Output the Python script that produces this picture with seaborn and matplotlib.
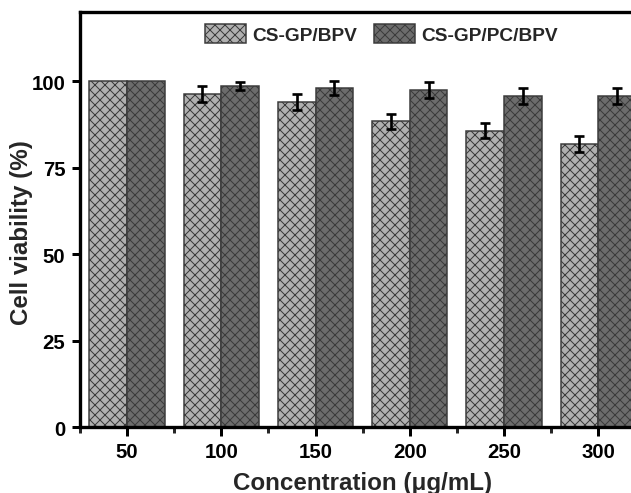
import numpy as np
import pandas as pd
import matplotlib
matplotlib.use("Agg")
import matplotlib.pyplot as plt
import seaborn as sns

# Concentrations tested and cell viability (%) for the two formulations
concentrations = ["50", "100", "150", "200", "250", "300"]
series_names = ["CS-GP/BPV", "CS-GP/PC/BPV"]
viability_bpv = [100.0, 96.3, 93.9, 88.4, 85.7, 81.9]
error_bpv = [0.0, 2.3, 2.3, 2.1, 2.2, 2.4]
viability_pc = [100.0, 98.7, 98.1, 97.5, 95.7, 95.6]
error_pc = [0.0, 1.2, 2.1, 2.4, 2.2, 2.3]
y_ticks = [0, 25, 50, 75, 100]

sns.set_style("ticks")
plt.rcParams["font.family"] = ["Liberation Sans", "DejaVu Sans"]
plt.rcParams["font.weight"] = "bold"
plt.rcParams["axes.labelweight"] = "bold"
plt.rcParams["hatch.linewidth"] = 0.6

df = pd.DataFrame({
    "Concentration": concentrations * 2,
    "Viability": viability_bpv + viability_pc,
    "Sample": [series_names[0]] * len(concentrations) + [series_names[1]] * len(concentrations),
})

DPI = 120
fig = plt.figure(figsize=(631 / DPI, 494 / DPI), dpi=DPI)
ax = fig.add_axes([80 / 631, (494 - 428.3) / 494, (645.3 - 80) / 631, (428.3 - 13) / 494])

fills = ["#b0b0b0", "#6c6c6c"]
sns.barplot(data=df, x="Concentration", y="Viability", hue="Sample",
            order=concentrations, hue_order=series_names, palette=fills,
            saturation=1, width=0.8, errorbar=None, edgecolor="#3a3a3a",
            linewidth=0.9, ax=ax)
if ax.get_legend() is not None:
    ax.get_legend().remove()

errors = [error_bpv, error_pc]
for container, err in zip(ax.containers, errors):
    for bar, e in zip(container.patches, err):
        bar.set_hatch("xxxx")
        if e > 0:
            ax.errorbar(bar.get_x() + bar.get_width() / 2, bar.get_height(), yerr=e,
                        fmt="none", ecolor="black", elinewidth=1.6, capsize=3,
                        capthick=1.6, zorder=5)

ax.set_xlim(-0.5, 5.5)
ax.set_ylim(0, 120)
ax.set_yticks(y_ticks)
ax.set_xticks(np.arange(-0.5, 6.0, 1.0), minor=True)

for side in ["left", "bottom", "top", "right"]:
    ax.spines[side].set_visible(True)
    ax.spines[side].set_linewidth(2.0)
    ax.spines[side].set_color("black")

ax.tick_params(axis="both", which="major", direction="out", width=1.8,
               labelsize=12.2, color="black", labelcolor="black")
ax.tick_params(axis="y", which="major", length=4.8, pad=4)
ax.tick_params(axis="x", which="major", length=5.4, pad=3.2)
ax.tick_params(axis="x", which="minor", length=3.6, width=1.8, direction="out")
ax.tick_params(axis="y", which="minor", length=0)
for lbl in ax.get_xticklabels() + ax.get_yticklabels():
    lbl.set_fontweight("bold")

ax.set_xlabel("Concentration (μg/mL)", fontsize=14.5, fontweight="bold", labelpad=6)
ax.set_ylabel("Cell viability (%)", fontsize=14.5, fontweight="bold")
ax.yaxis.set_label_coords((33 - 80) / 565.3, (428.3 - 233) / 415.3)

ax.legend(handles=list(ax.containers), labels=series_names, ncol=2, frameon=False,
          loc="upper left", bbox_to_anchor=(205 / 631, 1 - 25 / 494),
          bbox_transform=fig.transFigure, borderpad=0, borderaxespad=0,
          handlelength=2.15, handleheight=1.15, handletextpad=0.3,
          columnspacing=0.9, prop={"size": 11.5, "weight": "bold"})

fig.savefig("out.png", dpi=DPI)
